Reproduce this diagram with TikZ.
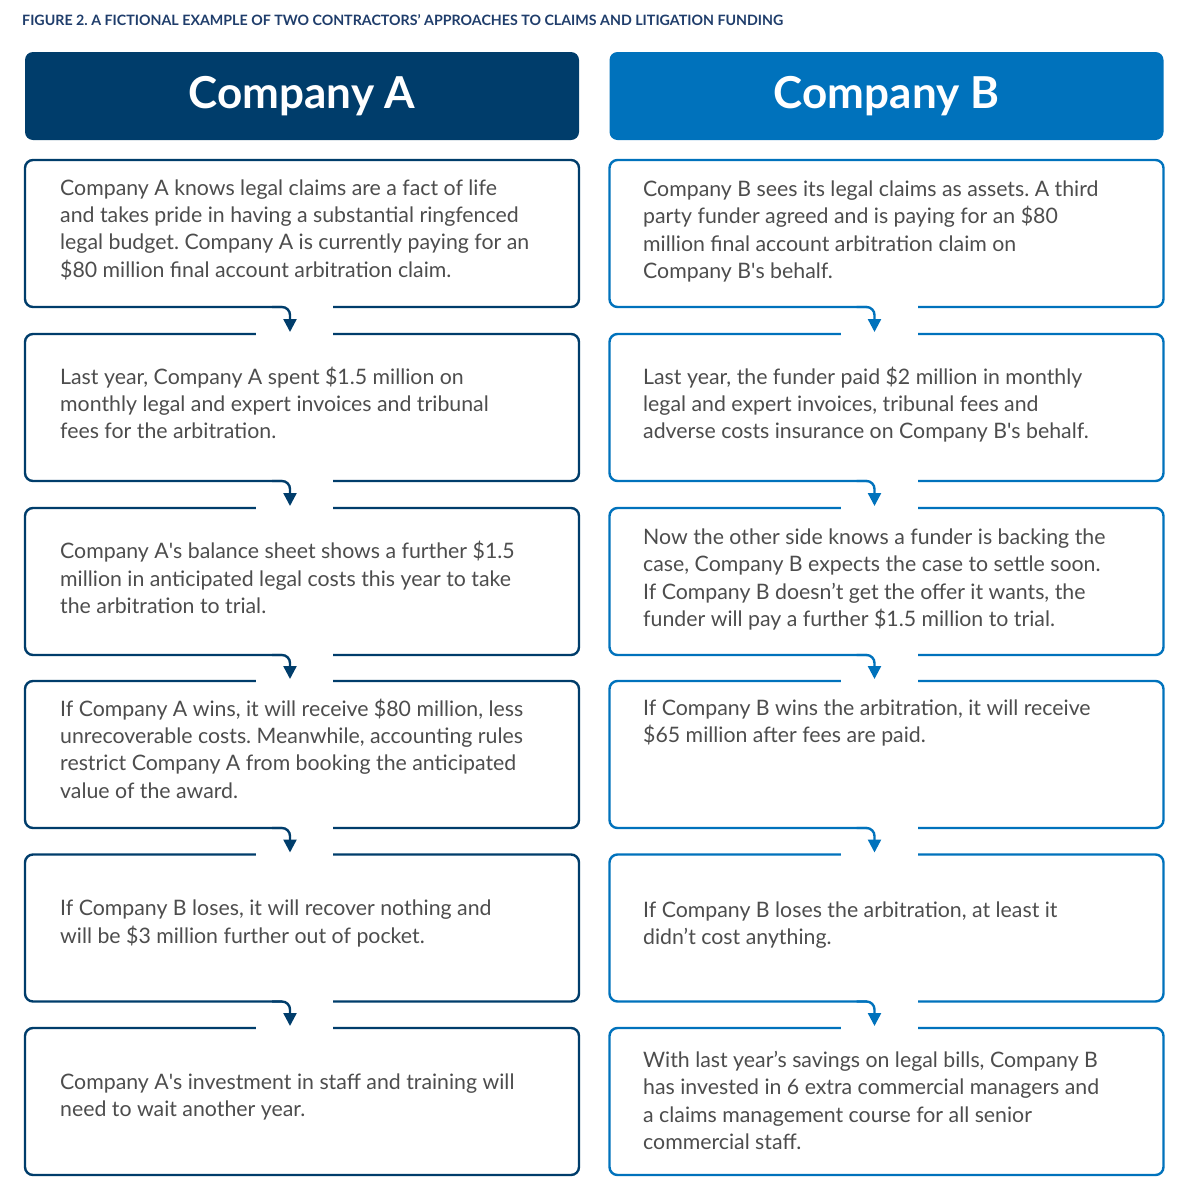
\documentclass[tikz,border=0pt]{standalone}
\usepackage{fontspec}
\setmainfont{Lato}
\usetikzlibrary{calc,arrows.meta}
\definecolor{navyA}{HTML}{003D6B}
\definecolor{blueB}{HTML}{0072BC}
\definecolor{titleblue}{HTML}{1F3D6B}
\definecolor{bodygray}{HTML}{4D4D4D}
\newcommand{\sq}{\textquotesingle}
\frenchspacing

\begin{document}
\begin{tikzpicture}[x=1pt,y=-1pt,
  head/.style={rounded corners=8pt, minimum width=554pt, minimum height=88pt,
    inner sep=0pt, outer sep=0pt, text=white, font=\fontsize{44}{50}\selectfont\bfseries},
  card/.style={draw, line width=2.4pt, rounded corners=8pt, fill=white,
    minimum width=554pt, minimum height=147pt, inner sep=0pt, outer sep=0pt},
  cardA/.style={card, draw=navyA},
  cardB/.style={card, draw=blueB},
  txt/.style={anchor=west, align=left, inner sep=0pt, text=bodygray,
    font=\fontsize{21.3}{27.3}\selectfont},
  gap/.style={fill=white},
  flowA/.style={navyA, line width=2.4pt, rounded corners=8pt, -{Triangle[length=13pt,width=13pt]}},
  flowB/.style={flowA, blueB}]
\useasboundingbox (0,0) rectangle (1187,1200);
% title
\node[anchor=west, inner sep=0pt, text=titleblue] (title) at (22,20)
  {\resizebox{761pt}{11pt}{\bfseries FIGURE 2. A FICTIONAL EXAMPLE OF TWO CONTRACTORS’ APPROACHES TO CLAIMS AND LITIGATION FUNDING}};
% headers
\node[head, fill=navyA] (hA) at (302,96) {Company A};
\node[head, fill=blueB] (hB) at (886.5,96) {Company B};
% Company A cards
\node[cardA] (a1) at (302,233.5) {};
\node[cardA] (a2) at (302,407.5) {};
\node[cardA] (a3) at (302,581.5) {};
\node[cardA] (a4) at (302,754.5) {};
\node[cardA] (a5) at (302,928) {};
\node[cardA] (a6) at (302,1101.5) {};
% Company B cards
\node[cardB] (b1) at (886.5,233.5) {};
\node[cardB] (b2) at (886.5,407.5) {};
\node[cardB] (b3) at (886.5,581.5) {};
\node[cardB] (b4) at (886.5,754.5) {};
\node[cardB] (b5) at (886.5,928) {};
\node[cardB] (b6) at (886.5,1101.5) {};
% Company A texts
\node[txt] (a1t) at (60,229.5) {Company A knows legal claims are a fact of life\\and takes pride in having a substantial ringfenced\\legal budget. Company A is currently paying for an\\\$80 million final account arbitration claim.};
\node[txt] (a2t) at (60,403) {Last year, Company A spent \$1.5 million on\\monthly legal and expert invoices and tribunal\\fees for the arbitration.};
\node[txt] (a3t) at (60,577.5) {Company A\sq s balance sheet shows a further \$1.5\\million in anticipated legal costs this year to take\\the arbitration to trial.};
\node[txt] (a4t) at (60,748.5) {If Company A wins, it will receive \$80 million, less\\unrecoverable costs. Meanwhile, accounting rules\\restrict Company A from booking the anticipated\\value of the award.};
\node[txt] (a5t) at (60,923.5) {If Company B loses, it will recover nothing and\\will be \$3 million further out of pocket.};
\node[txt] (a6t) at (60,1097) {Company A\sq s investment in staff and training will\\need to wait another year.};
% Company B texts
\node[txt] (b1t) at (643,231.5) {Company B sees its legal claims as assets. A third\\party funder agreed and is paying for an \$80\\million final account arbitration claim on\\Company B\sq s behalf.};
\node[txt] (b2t) at (643,404.5) {Last year, the funder paid \$2 million in monthly\\legal and expert invoices, tribunal fees and\\adverse costs insurance on Company B\sq s behalf.};
\node[txt] (b3t) at (643,579.5) {Now the other side knows a funder is backing the\\case, Company B expects the case to settle soon.\\If Company B doesn’t get the offer it wants, the\\funder will pay a further \$1.5 million to trial.};
\node[txt] (b4t) at (643,723) {If Company B wins the arbitration, it will receive\\\$65 million after fees are paid.};
\node[txt] (b5t) at (643,925) {If Company B loses the arbitration, at least it\\didn’t cost anything.};
\node[txt] (b6t) at (643,1100.5) {With last year’s savings on legal bills, Company B\\has invested in 6 extra commercial managers and\\a claims management course for all senior\\commercial staff.};
% gaps and arrows, Company A
\fill[gap] ($(a1.south)+(-20,-3)$) rectangle ($(a1.south)+(31,3)$);
\fill[gap] ($(a2.north)+(-46,-3)$) rectangle ($(a2.north)+(31,3)$);
\draw[flowA] ($(a1.south)+(-30,0)$) -| ($(a2.north)+(-12,-2)$);
\fill[gap] ($(a2.south)+(-20,-3)$) rectangle ($(a2.south)+(31,3)$);
\fill[gap] ($(a3.north)+(-46,-3)$) rectangle ($(a3.north)+(31,3)$);
\draw[flowA] ($(a2.south)+(-30,0)$) -| ($(a3.north)+(-12,-2)$);
\fill[gap] ($(a3.south)+(-20,-3)$) rectangle ($(a3.south)+(31,3)$);
\fill[gap] ($(a4.north)+(-46,-3)$) rectangle ($(a4.north)+(31,3)$);
\draw[flowA] ($(a3.south)+(-30,0)$) -| ($(a4.north)+(-12,-2)$);
\fill[gap] ($(a4.south)+(-20,-3)$) rectangle ($(a4.south)+(31,3)$);
\fill[gap] ($(a5.north)+(-46,-3)$) rectangle ($(a5.north)+(31,3)$);
\draw[flowA] ($(a4.south)+(-30,0)$) -| ($(a5.north)+(-12,-2)$);
\fill[gap] ($(a5.south)+(-20,-3)$) rectangle ($(a5.south)+(31,3)$);
\fill[gap] ($(a6.north)+(-46,-3)$) rectangle ($(a6.north)+(31,3)$);
\draw[flowA] ($(a5.south)+(-30,0)$) -| ($(a6.north)+(-12,-2)$);
% gaps and arrows, Company B
\fill[gap] ($(b1.south)+(-20,-3)$) rectangle ($(b1.south)+(31,3)$);
\fill[gap] ($(b2.north)+(-46,-3)$) rectangle ($(b2.north)+(31,3)$);
\draw[flowB] ($(b1.south)+(-30,0)$) -| ($(b2.north)+(-12,-2)$);
\fill[gap] ($(b2.south)+(-20,-3)$) rectangle ($(b2.south)+(31,3)$);
\fill[gap] ($(b3.north)+(-46,-3)$) rectangle ($(b3.north)+(31,3)$);
\draw[flowB] ($(b2.south)+(-30,0)$) -| ($(b3.north)+(-12,-2)$);
\fill[gap] ($(b3.south)+(-20,-3)$) rectangle ($(b3.south)+(31,3)$);
\fill[gap] ($(b4.north)+(-46,-3)$) rectangle ($(b4.north)+(31,3)$);
\draw[flowB] ($(b3.south)+(-30,0)$) -| ($(b4.north)+(-12,-2)$);
\fill[gap] ($(b4.south)+(-20,-3)$) rectangle ($(b4.south)+(31,3)$);
\fill[gap] ($(b5.north)+(-46,-3)$) rectangle ($(b5.north)+(31,3)$);
\draw[flowB] ($(b4.south)+(-30,0)$) -| ($(b5.north)+(-12,-2)$);
\fill[gap] ($(b5.south)+(-20,-3)$) rectangle ($(b5.south)+(31,3)$);
\fill[gap] ($(b6.north)+(-46,-3)$) rectangle ($(b6.north)+(31,3)$);
\draw[flowB] ($(b5.south)+(-30,0)$) -| ($(b6.north)+(-12,-2)$);
\end{tikzpicture}
\end{document}
